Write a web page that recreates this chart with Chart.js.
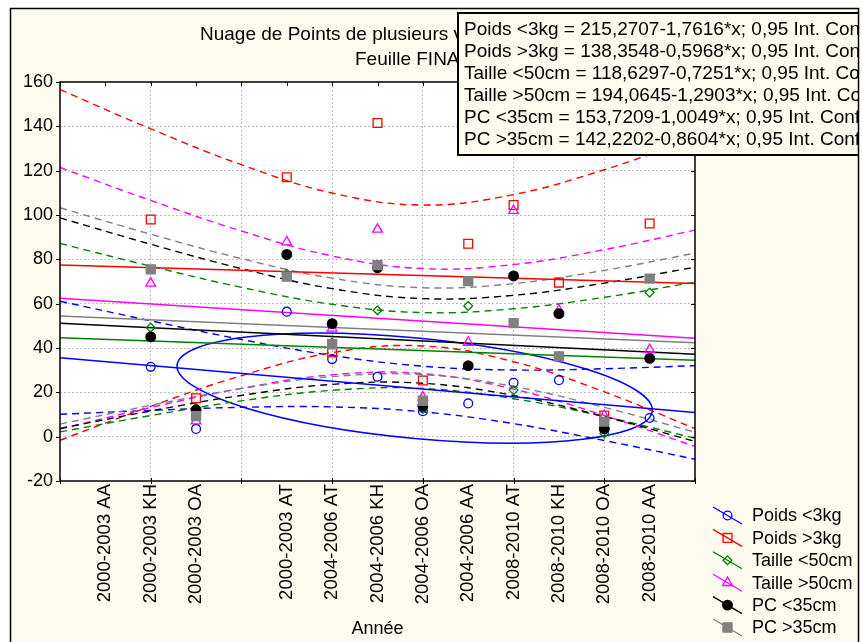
<!DOCTYPE html>
<html>
<head>
<meta charset="utf-8">
<script src="https://cdn.jsdelivr.net/npm/chart.js@4.4.1/dist/chart.umd.min.js"></script>
<style>
  html, body { margin: 0; padding: 0; background: #ffffff; }
  #wrap { width: 862px; height: 642px; }
</style>
</head>
<body>
<div id="wrap"><canvas id="chart" width="862" height="642"></canvas></div>
<script>
const FONT = "'Liberation Sans', Arial, Helvetica, sans-serif";
const CREAM = '#fdfaf0';

// Année axis: numeric codes and the labels printed under them
const categoryCodes = [103, 104, 105, 107, 108, 109, 110, 111, 112, 113, 114, 115];
const categoryLabels = ['2000-2003 AA', '2000-2003 KH', '2000-2003 OA', '2000-2003 AT',
  '2004-2006 AT', '2004-2006 KH', '2004-2006 OA', '2004-2006 AA',
  '2008-2010 AT', '2008-2010 KH', '2008-2010 OA', '2008-2010 AA'];
const xTickValues = [102, 103, 104, 105, 106, 107, 108, 109, 110, 111, 112, 113, 114, 115, 116];
const yTickValues = [-20, 0, 20, 40, 60, 80, 100, 120, 140, 160];

const titleLines = ['Nuage de Points de plusieurs variables', 'Feuille FINAL'];
const seriesNames = ['Poids <3kg', 'Poids >3kg', 'Taille <50cm', 'Taille >50cm', 'PC <35cm', 'PC >35cm'];

// observations (x = Année code)
const obsX          = [104, 105, 107, 108, 109, 110, 111, 112, 113, 114, 115];
const poidsMoins3kg = [31.5, 3.5, 56.4, 35.0, 27.0, 11.5, 15.0, 24.3, 25.5, 3.3, 8.4];
const poidsPlus3kg  = [98.0, 17.3, 117.0, 38.0, 141.5, 25.3, 87.0, 104.5, 69.5, 9.5, 96.2];
const tailleMoins50 = [49.2, 13.0, 73.5, 42.5, 57.0, 12.5, 59.0, 21.0, 36.2, 1.5, 65.0];
const taillePlus50  = [69.2, 7.0, 87.8, 48.9, 93.5, 17.8, 42.5, 102.0, 57.0, 9.5, 39.2];
const pcMoins35     = [45.0, 12.0, 82.2, 51.0, 76.2, 13.8, 32.0, 72.5, 55.5, 3.6, 35.3];
const pcPlus35      = [75.5, 9.3, 72.2, 41.7, 77.4, 16.2, 70.2, 51.2, 36.2, 6.8, 71.3];

// linear fits y = a + b*x
const fitIntercepts = [215.2707, 138.3548, 118.6297, 194.0645, 153.7209, 142.2202];
const fitSlopes     = [-1.7616, -0.5968, -0.7251, -1.2903, -1.0049, -0.8604];

// 0,95 confidence band half-widths around each fit
const bandX = [102, 104, 106, 108, 110, 112, 114, 116];
const bandPoidsMoins3kg = [25.5, 20.2, 15.3, 11.6, 10.3, 12.1, 16.2, 21.1];
const bandPoidsPlus3kg  = [79.1, 62.6, 47.6, 36.0, 31.8, 37.7, 50.1, 65.5];
const bandTailleMoins50 = [42.5, 33.7, 25.6, 19.4, 17.1, 20.3, 26.9, 35.2];
const bandTaillePlus50  = [59.0, 46.7, 35.5, 26.8, 23.7, 28.1, 37.4, 48.8];
const bandPcMoins35     = [47.5, 37.6, 28.6, 21.6, 19.1, 22.6, 30.1, 39.3];
const bandPcPlus35      = [48.8, 38.6, 29.3, 22.2, 19.6, 23.2, 30.9, 40.4];

// confidence ellipse of Poids <3kg (centre and two conjugate semi-diameters, data units)
const ellipseCenter = [109.82, 21.9];
const ellipseAxisU  = [5.24, -9.9];
const ellipseAxisV  = [0, 22.7];

const seriesValues = [poidsMoins3kg, poidsPlus3kg, tailleMoins50, taillePlus50, pcMoins35, pcPlus35];
const bandHalf = [bandPoidsMoins3kg, bandPoidsPlus3kg, bandTailleMoins50, bandTaillePlus50, bandPcMoins35, bandPcPlus35];

const styles = [
  { color: '#0000ff', point: 'circle',   radius: 4.4, filled: false },
  { color: '#ff0000', point: 'rect',     radius: 6.2, filled: false },
  { color: '#008000', point: 'rectRot',  radius: 4.4, filled: false },
  { color: '#ff00ff', point: 'triangle', radius: 5.6, filled: false },
  { color: '#000000', point: 'circle',   radius: 4.8, filled: true },
  { color: '#808080', point: 'rect',     radius: 6.4, filled: true }
];

const fitAt = (i, x) => fitIntercepts[i] + fitSlopes[i] * x;
const decimalFr = v => v.toFixed(4).replace('.', ',');
const equationLines = seriesNames.map((n, i) =>
  `${n} = ${decimalFr(fitIntercepts[i])}-${decimalFr(-fitSlopes[i])}*x; 0,95 Int. Conf.`);

const datasets = [];
seriesNames.forEach((name, i) => {
  const st = styles[i];
  datasets.push({
    label: name,
    data: obsX.map((x, k) => ({ x: x, y: seriesValues[i][k] })),
    showLine: false,
    pointStyle: st.point,
    pointRadius: st.radius,
    pointBorderWidth: 1.3,
    pointBorderColor: st.color,
    pointBackgroundColor: st.filled ? st.color : 'rgba(0,0,0,0)',
    order: 6 - i
  });
  datasets.push({
    label: name + ' ajustement',
    data: [{ x: 102, y: fitAt(i, 102) }, { x: 116, y: fitAt(i, 116) }],
    showLine: true, pointRadius: 0, borderColor: st.color, borderWidth: 1.5,
    order: 20 - i
  });
  ['sup', 'inf'].forEach((side, s) => {
    datasets.push({
      label: name + ' ' + side,
      data: bandX.map((x, k) => ({ x: x, y: fitAt(i, x) + (s === 0 ? 1 : -1) * bandHalf[i][k] })),
      showLine: true, pointRadius: 0, borderColor: st.color, borderWidth: 1.4,
      borderDash: [7, 5], tension: 0.4,
      order: 40 - i
    });
  });
});

function drawMarker(ctx, st, x, y) {
  ctx.save();
  ctx.strokeStyle = st.color;
  ctx.fillStyle = st.filled ? st.color : 'rgba(0,0,0,0)';
  ctx.lineWidth = 1.3;
  if (Chart.helpers && Chart.helpers.drawPoint) {
    Chart.helpers.drawPoint(ctx, { pointStyle: st.point, radius: st.radius, borderWidth: 1.3, rotation: 0 }, x, y);
  } else {
    ctx.beginPath(); ctx.arc(x, y, st.radius, 0, Math.PI * 2); ctx.fill(); ctx.stroke();
  }
  ctx.restore();
}

const decor = {
  id: 'decor',
  beforeDraw(chart) {
    const { ctx, chartArea: a } = chart;
    ctx.save();
    ctx.fillStyle = '#ffffff';
    ctx.fillRect(0, 0, 862, 642);
    ctx.fillStyle = CREAM;
    ctx.fillRect(10, 8, 848, 640);
    ctx.fillStyle = '#ffffff';
    ctx.fillRect(a.left, a.top, a.right - a.left, a.bottom - a.top);
    ctx.fillStyle = '#000000';
    ctx.font = `19px ${FONT}`;
    ctx.textAlign = 'left';
    ctx.textBaseline = 'middle';
    ctx.fillText(titleLines[0], 200, 35);
    ctx.fillText(titleLines[1], 355, 60);
    ctx.restore();
  },
  beforeDatasetsDraw(chart) {
    const { ctx, chartArea: a, scales } = chart;
    const sx = scales.x, sy = scales.y;
    const cx = sx.getPixelForValue(ellipseCenter[0]);
    const cy = sy.getPixelForValue(ellipseCenter[1]);
    const ux = sx.getPixelForValue(ellipseCenter[0] + ellipseAxisU[0]) - cx;
    const uy = sy.getPixelForValue(ellipseCenter[1] + ellipseAxisU[1]) - cy;
    const vx = sx.getPixelForValue(ellipseCenter[0] + ellipseAxisV[0]) - cx;
    const vy = sy.getPixelForValue(ellipseCenter[1] + ellipseAxisV[1]) - cy;
    ctx.save();
    ctx.beginPath();
    ctx.rect(a.left, a.top, a.right - a.left, a.bottom - a.top);
    ctx.clip();
    ctx.beginPath();
    ctx.save();
    ctx.transform(ux, uy, vx, vy, cx, cy);
    ctx.arc(0, 0, 1, 0, Math.PI * 2);
    ctx.restore();
    ctx.strokeStyle = styles[0].color;
    ctx.lineWidth = 1.5;
    ctx.stroke();
    ctx.restore();
  },
  afterDraw(chart) {
    const { ctx, chartArea: a, scales } = chart;
    const sx = scales.x, sy = scales.y;
    ctx.save();
    // plot frame and ticks
    ctx.strokeStyle = '#000000';
    ctx.lineWidth = 1.5;
    ctx.strokeRect(a.left, a.top, a.right - a.left, a.bottom - a.top);
    ctx.lineWidth = 1;
    ctx.beginPath();
    yTickValues.forEach(v => {
      const py = Math.round(sy.getPixelForValue(v)) + 0.5;
      ctx.moveTo(a.left - 4, py); ctx.lineTo(a.left, py);
      ctx.moveTo(a.right - 4, py); ctx.lineTo(a.right, py);
    });
    xTickValues.forEach(v => {
      const px = Math.round(sx.getPixelForValue(v)) + 0.5;
      ctx.moveTo(px, a.top); ctx.lineTo(px, a.top + 4);
      if (v % 2 === 0) { ctx.moveTo(px, a.bottom - 3); ctx.lineTo(px, a.bottom + 3); }
    });
    ctx.stroke();

    // everything below stays inside the outer frame
    ctx.save();
    ctx.beginPath();
    ctx.rect(10, 8, 848, 640);
    ctx.clip();

    // equation box
    ctx.fillStyle = CREAM;
    ctx.fillRect(458, 13, 410, 142);
    ctx.strokeStyle = '#000000';
    ctx.lineWidth = 2;
    ctx.strokeRect(458, 13, 410, 142);
    ctx.fillStyle = '#000000';
    ctx.font = `19px ${FONT}`;
    ctx.textAlign = 'left';
    ctx.textBaseline = 'middle';
    equationLines.forEach((t, i) => ctx.fillText(t, 464, 30 + 22 * i));

    // series legend
    seriesNames.forEach((n, i) => {
      const st = styles[i];
      const yc = 515.5 + 22.4 * i;
      ctx.strokeStyle = st.color;
      ctx.lineWidth = 1.3;
      ctx.beginPath();
      ctx.moveTo(713, yc - 8.5);
      ctx.lineTo(742, yc + 8.5);
      ctx.stroke();
      drawMarker(ctx, st, 727.5, yc);
      ctx.fillStyle = '#000000';
      ctx.font = `18px ${FONT}`;
      ctx.textAlign = 'left';
      ctx.textBaseline = 'middle';
      ctx.fillText(n, 752, yc + 1);
    });
    ctx.restore();

    // outer frame
    ctx.fillStyle = '#ffffff';
    ctx.fillRect(859, 0, 10, 642);
    ctx.strokeStyle = '#000000';
    ctx.lineWidth = 1.5;
    ctx.beginPath();
    ctx.moveTo(10.5, 650); ctx.lineTo(10.5, 8.5); ctx.lineTo(858.5, 8.5); ctx.lineTo(858.5, 650);
    ctx.stroke();
    ctx.restore();
  }
};

new Chart(document.getElementById('chart'), {
  type: 'scatter',
  data: { datasets: datasets },
  options: {
    responsive: false,
    animation: false,
    events: [],
    layout: { padding: { left: 0, right: 167, top: 82, bottom: 0 } },
    plugins: { legend: { display: false }, tooltip: { enabled: false }, title: { display: false } },
    scales: {
      x: {
        type: 'linear', min: 102, max: 116,
        afterBuildTicks: s => { s.ticks = xTickValues.map(v => ({ value: v })); },
        afterFit: s => { s.height = 161; },
        ticks: {
          autoSkip: false, minRotation: 90, maxRotation: 90, padding: 3,
          color: '#000000', font: { size: 18.5, family: FONT },
          callback: v => { const k = categoryCodes.indexOf(v); return k >= 0 ? categoryLabels[k] : ''; }
        },
        grid: {
          drawTicks: false, lineWidth: 1,
          color: c => (c.tick && c.tick.value % 2 === 0 && c.tick.value > 102 && c.tick.value < 116) ? '#bdbdbd' : 'rgba(0,0,0,0)'
        },
        border: { display: false, dash: [2, 2] },
        title: { display: true, text: 'Année', color: '#000000', font: { size: 18, family: FONT }, padding: { top: 0, bottom: 2 } }
      },
      y: {
        type: 'linear', min: -20, max: 160,
        afterBuildTicks: s => { s.ticks = yTickValues.map(v => ({ value: v })); },
        afterFit: s => { s.width = 60; },
        ticks: { padding: 7, color: '#000000', font: { size: 18, family: FONT } },
        grid: {
          drawTicks: false, lineWidth: 1,
          color: c => (c.tick && (c.tick.value === -20 || c.tick.value === 160)) ? 'rgba(0,0,0,0)' : '#bdbdbd'
        },
        border: { display: false, dash: [2, 2] }
      }
    }
  },
  plugins: [decor]
});
</script>
</body>
</html>
